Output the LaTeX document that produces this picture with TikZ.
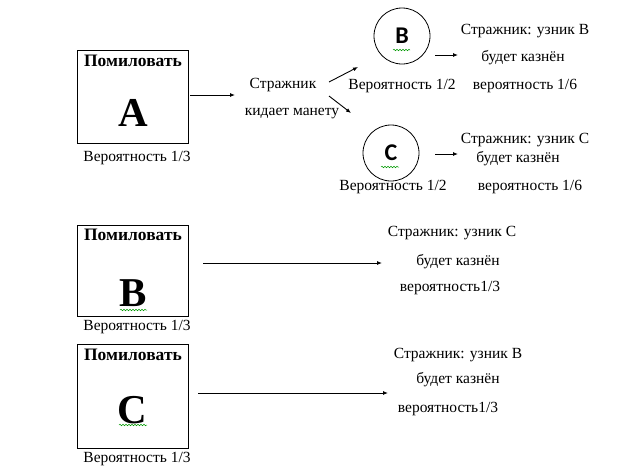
\documentclass[tikz,border=0pt]{standalone}
\usepackage{fontspec}
\setmainfont{Liberation Serif}
\newfontfamily\carl{Carlito}
\usetikzlibrary{arrows.meta,decorations.pathmorphing}
\begin{document}
\begin{tikzpicture}[x=1pt,y=-1pt,
  txt/.style={inner sep=0pt,font=\fontsize{15.5}{17}\selectfont},
  ttl/.style={inner sep=0pt,font=\fontsize{17.5}{19}\selectfont\bfseries},
  big/.style={inner sep=0pt,font=\fontsize{41}{44}\selectfont\bfseries},
  circ/.style={draw,circle,line width=0.8pt,minimum size=56pt,inner sep=0pt,font=\carl\bfseries\fontsize{24}{26}\selectfont},
  boxst/.style={draw,line width=1pt},
  arr/.style={line width=0.9pt,-{Latex[length=5pt,width=4pt]}},
  wavy/.style={draw=green!60!black,line width=0.5pt,decorate,decoration={snake,amplitude=0.8pt,segment length=3pt}}
]
\useasboundingbox (0,0) rectangle (620,467);
% ---- top row
\node[boxst,minimum width=111pt,minimum height=93pt,inner sep=0pt] (boxA) at (132.5,96.5) {};
\node[ttl] (tA) at (133,61) {Помиловать};
\node[big] (lA) at (133,113) {A};
\node[txt] (pA) at (137,158) {Вероятность 1/3};
\node[txt] (g1) at (283,85) {Стражник};
\node[txt] (g2) at (292,114) {кидает манету};
\coordinate (a1s) at (190,95);
\coordinate (a1e) at (235,95);
\draw[arr] (a1s) -- (a1e);
\coordinate (u1) at (329,82);
\coordinate (u2) at (358,67);
\coordinate (d1) at (329,96);
\coordinate (d2) at (351,113);
\draw[arr] (u1) -- (u2);
\draw[arr] (d1) -- (d2);
\node[circ] (cB) at (402,36) {B};
\node[txt] (pB) at (402,86) {Вероятность 1/2};
\draw[wavy] (393,50) -- (410,50);
\coordinate (bs) at (435,55);
\coordinate (be) at (458,55);
\draw[arr] (bs) -- (be);
\node[txt] (rB1) at (525,31) {Стражник: узник B};
\node[txt] (rB2) at (523,58) {будет казнён};
\node[txt] (rB3) at (525,86) {вероятность 1/6};
\node[circ] (cC) at (391,153) {C};
\node[txt] (pC) at (393,187) {Вероятность 1/2};
\draw[wavy] (381,167) -- (399,167);
\coordinate (cs) at (435,154);
\coordinate (ce) at (458,154);
\draw[arr] (cs) -- (ce);
\node[txt] (rC1) at (525,140) {Стражник: узник C};
\node[txt] (rC2) at (518,159) {будет казнён};
\node[txt] (rC3) at (530,187) {вероятность 1/6};
% ---- box B
\node[boxst,minimum width=111pt,minimum height=91pt,inner sep=0pt] (boxB) at (132.5,270.5) {};
\node[ttl] (tB) at (133,235) {Помиловать};
\node[big] (lB) at (133,293) {B};
\draw[wavy] (120,310) -- (147,310);
\node[txt] (pBB) at (137,327) {Вероятность 1/3};
\coordinate (bbs) at (203,263);
\coordinate (bbe) at (382,263);
\draw[arr] (bbs) -- (bbe);
\node[txt] (sB1) at (452,233) {Стражник: узник C};
\node[txt] (sB2) at (458,262) {будет казнён};
\node[txt] (sB3) at (450,288) {вероятность1/3};
% ---- box C
\node[boxst,minimum width=111pt,minimum height=104pt,inner sep=0pt] (boxC) at (132.5,396) {};
\node[ttl] (tC) at (133,355) {Помиловать};
\node[big] (lC) at (132,410) {C};
\draw[wavy] (119,425) -- (147,425);
\node[txt] (pCC) at (137,459) {Вероятность 1/3};
\coordinate (ccs) at (198,393);
\coordinate (cce) at (388,393);
\draw[arr] (ccs) -- (cce);
\node[txt] (sC1) at (458,355) {Стражник: узник B};
\node[txt] (sC2) at (458,380) {будет казнён};
\node[txt] (sC3) at (448,409) {вероятность1/3};
\end{tikzpicture}
\end{document}
